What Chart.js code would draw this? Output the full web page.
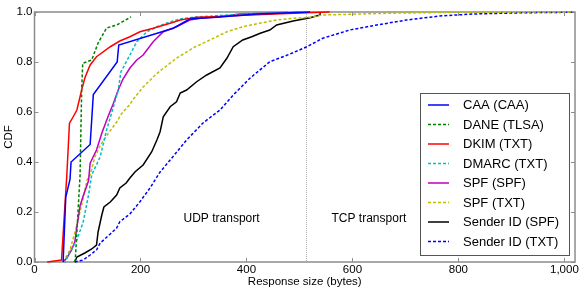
<!DOCTYPE html>
<html>
<head>
<meta charset="utf-8">
<script src="https://cdn.jsdelivr.net/npm/chart.js@4/dist/chart.umd.min.js"></script>
<style>
  html, body { margin: 0; padding: 0; background: #fff; }
  #wrap { width: 581px; height: 292px; }
</style>
</head>
<body>
<div id="wrap"><canvas id="cdfChart" width="581" height="292"></canvas></div>
<script>
// Response size (bytes) and cumulative fraction for each record type
const caaSize = [54, 59, 67, 69, 105, 111, 156, 159, 262, 284, 293, 350, 420, 520];
const caaCdf  = [0, 0.26, 0.33, 0.40, 0.47, 0.67, 0.80, 0.868, 0.935, 0.961, 0.972, 0.98, 0.992, 1.0];

const daneSize = [75, 77, 86, 89, 91, 108, 120, 136, 155, 178, 182];
const daneCdf  = [0, 0.01, 0.348, 0.688, 0.795, 0.808, 0.876, 0.936, 0.948, 0.975, 0.981];

const dkimSize = [24, 51, 61, 66, 73, 80, 89, 95, 105, 117, 143, 161, 180, 199, 224, 256, 275, 306, 337, 406, 500, 557];
const dkimCdf  = [0, 0.008, 0.348, 0.555, 0.581, 0.608, 0.688, 0.736, 0.788, 0.821, 0.861, 0.884, 0.901, 0.921, 0.935, 0.955, 0.968, 0.979, 0.981, 0.988, 0.996, 1.0];

const dmarcSize = [54, 58, 67, 80, 92, 102, 108, 124, 136, 149, 158, 163, 180, 193, 212, 231, 256, 275, 299, 380, 480];
const dmarcCdf  = [0, 0.002, 0.041, 0.088, 0.161, 0.268, 0.348, 0.421, 0.528, 0.621, 0.688, 0.76, 0.828, 0.881, 0.921, 0.941, 0.961, 0.972, 0.979, 0.99, 1.0];

const spfSpfSize = [54, 61, 70, 76, 80, 86, 92, 102, 105, 117, 127, 139, 149, 158, 167, 180, 193, 205, 224, 243, 268, 293, 312, 350, 387, 500];
const spfSpfCdf  = [0, 0.016, 0.048, 0.08, 0.14, 0.225, 0.265, 0.325, 0.395, 0.448, 0.515, 0.583, 0.635, 0.688, 0.732, 0.776, 0.808, 0.828, 0.881, 0.921, 0.941, 0.968, 0.975, 0.981, 0.992, 0.998];

const spfTxtSize = [54, 67, 80, 92, 99, 105, 114, 125, 136, 155, 165, 180, 186, 205, 224, 237, 268, 299, 331, 363, 393, 425, 457, 488, 520, 544, 670, 797, 1016];
const spfTxtCdf  = [0, 0.048, 0.148, 0.256, 0.328, 0.348, 0.421, 0.47, 0.505, 0.56, 0.595, 0.63, 0.65, 0.70, 0.74, 0.765, 0.815, 0.856, 0.888, 0.921, 0.941, 0.955, 0.968, 0.975, 0.979, 0.988, 0.995, 0.999, 1.0];

const senderSpfSize = [76, 80, 95, 108, 117, 120, 127, 131, 143, 155, 161, 173, 180, 190, 205, 221, 231, 237, 243, 256, 268, 275, 287, 306, 325, 350, 363, 375, 393, 410, 426, 444, 457, 488, 520, 539, 539];
const senderSpfCdf  = [0, 0.02, 0.036, 0.052, 0.068, 0.12, 0.188, 0.22, 0.24, 0.268, 0.296, 0.316, 0.336, 0.361, 0.388, 0.44, 0.488, 0.521, 0.581, 0.621, 0.641, 0.676, 0.688, 0.721, 0.748, 0.776, 0.815, 0.861, 0.888, 0.901, 0.915, 0.928, 0.948, 0.964, 0.977, 0.988, 1.0];

const senderTxtSize = [76, 92, 105, 117, 124, 143, 155, 161, 180, 199, 218, 237, 256, 287, 318, 350, 375, 407, 444, 480, 514, 544, 595, 646, 702, 765, 827, 922, 1016];
const senderTxtCdf  = [0, 0.008, 0.028, 0.048, 0.076, 0.112, 0.136, 0.161, 0.192, 0.241, 0.296, 0.36, 0.408, 0.488, 0.556, 0.608, 0.668, 0.736, 0.801, 0.83, 0.861, 0.895, 0.928, 0.948, 0.968, 0.984, 0.992, 0.997, 0.999];

const seriesLabels = ['CAA (CAA)', 'DANE (TLSA)', 'DKIM (TXT)', 'DMARC (TXT)', 'SPF (SPF)', 'SPF (TXT)', 'Sender ID (SPF)', 'Sender ID (TXT)'];
const xTicks = [0, 200, 400, 600, 800, 1000];
const yTicks = [0, 0.2, 0.4, 0.6, 0.8, 1.0];
const udpLimit = 512; // bytes
const regionNotes = [
  { text: 'UDP transport', x: 353, y: 0.172 },
  { text: 'TCP transport', x: 631, y: 0.172 },
];

const FONT = '"Liberation Sans", Arial, sans-serif';
const frameColor = '#8c8c8c';

function toPoints(xs, ys) {
  return xs.map((x, i) => ({ x: x, y: ys[i] }));
}

function series(i, xs, ys, color, dashed) {
  return {
    label: seriesLabels[i],
    data: toPoints(xs, ys),
    borderColor: color,
    backgroundColor: color,
    borderWidth: 1.5,
    borderDash: dashed ? [3, 2] : [],
    pointRadius: 0,
    tension: 0,
    fill: false,
    clip: false,
  };
}

// matplotlib-like frame, inward ticks, dotted UDP limit and text notes
const framePlugin = {
  id: 'frame',
  beforeDatasetsDraw(chart) {
    const { ctx, chartArea: a, scales: { x, y } } = chart;
    ctx.save();

    // dotted line at the UDP size limit
    const lx = Math.round(x.getPixelForValue(udpLimit)) + 0.5;
    ctx.strokeStyle = '#b0b0b0';
    ctx.lineWidth = 1;
    ctx.setLineDash([1, 1]);
    ctx.beginPath();
    ctx.moveTo(lx, a.top);
    ctx.lineTo(lx, a.bottom);
    ctx.stroke();
    ctx.setLineDash([]);

    // frame
    ctx.strokeStyle = frameColor;
    ctx.lineWidth = 1.5;
    ctx.strokeRect(a.left, a.top, a.right - a.left, a.bottom - a.top);

    // inward ticks on all sides
    ctx.lineWidth = 1;
    ctx.beginPath();
    xTicks.forEach(v => {
      const px = Math.round(x.getPixelForValue(v)) + 0.5;
      ctx.moveTo(px, a.bottom); ctx.lineTo(px, a.bottom - 4);
      ctx.moveTo(px, a.top); ctx.lineTo(px, a.top + 4);
    });
    yTicks.forEach(v => {
      const py = Math.round(y.getPixelForValue(v)) + 0.5;
      ctx.moveTo(a.left, py); ctx.lineTo(a.left + 4, py);
      ctx.moveTo(a.right, py); ctx.lineTo(a.right - 4, py);
    });
    ctx.stroke();

    // text notes
    ctx.fillStyle = '#000';
    ctx.font = '12px ' + FONT;
    ctx.textAlign = 'center';
    ctx.textBaseline = 'middle';
    regionNotes.forEach(n => {
      ctx.fillText(n.text, x.getPixelForValue(n.x), y.getPixelForValue(n.y));
    });
    ctx.restore();
  },
  afterDatasetsDraw(chart) {
    // legend box inside the plot, lower right
    const { ctx, chartArea: a } = chart;
    const w = 149, h = 162;
    const bx = a.right - 6 - w;
    const by = a.bottom - 7 - h;
    ctx.save();
    ctx.fillStyle = '#fff';
    ctx.fillRect(bx, by, w, h);
    ctx.strokeStyle = '#555';
    ctx.lineWidth = 1;
    ctx.strokeRect(Math.round(bx) + 0.5, Math.round(by) + 0.5, w, h);
    ctx.font = '13px ' + FONT;
    ctx.textAlign = 'left';
    ctx.textBaseline = 'middle';
    chart.data.datasets.forEach((ds, i) => {
      const cy = by + 12 + i * 19.5;
      ctx.strokeStyle = ds.borderColor;
      ctx.lineWidth = 1.5;
      ctx.setLineDash(ds.borderDash);
      ctx.beginPath();
      ctx.moveTo(bx + 8, cy);
      ctx.lineTo(bx + 29, cy);
      ctx.stroke();
      ctx.setLineDash([]);
      ctx.fillStyle = '#000';
      ctx.fillText(ds.label, bx + 43, cy + 0.5);
    });
    ctx.restore();
  }
};

new Chart(document.getElementById('cdfChart'), {
  type: 'line',
  data: {
    datasets: [
      series(0, caaSize, caaCdf, '#0000ff', false),
      series(1, daneSize, daneCdf, '#008000', true),
      series(2, dkimSize, dkimCdf, '#ff0000', false),
      series(3, dmarcSize, dmarcCdf, '#00bfbf', true),
      series(4, spfSpfSize, spfSpfCdf, '#bf00bf', false),
      series(5, spfTxtSize, spfTxtCdf, '#bfbf00', true),
      series(6, senderSpfSize, senderSpfCdf, '#000000', false),
      series(7, senderTxtSize, senderTxtCdf, '#0000ff', true),
    ]
  },
  options: {
    responsive: false,
    animation: false,
    devicePixelRatio: 1,
    layout: { padding: { left: 0, right: 6, top: 12, bottom: 0 } },
    plugins: {
      legend: { display: false },
      tooltip: { enabled: false },
    },
    scales: {
      x: {
        type: 'linear',
        min: 0,
        max: 1020,
        grid: { display: false, drawTicks: false },
        border: { display: false },
        afterBuildTicks: (scale) => { scale.ticks = xTicks.map(v => ({ value: v })); },
        afterFit: (scale) => { scale.height = 30; },
        ticks: {
          color: '#000',
          padding: 1,
          maxRotation: 0,
          font: { family: FONT, size: 11.5 },
        },
        title: {
          display: true,
          text: 'Response size (bytes)',
          color: '#000',
          padding: { top: 0, bottom: 3 },
          font: { family: FONT, size: 11.5 },
        }
      },
      y: {
        type: 'linear',
        min: 0,
        max: 1,
        grid: { display: false, drawTicks: false },
        border: { display: false },
        afterBuildTicks: (scale) => { scale.ticks = yTicks.map(v => ({ value: v })); },
        afterFit: (scale) => { scale.width = 34.5; },
        ticks: {
          color: '#000',
          padding: 2,
          font: { family: FONT, size: 11.5 },
          callback: (v) => Number(v).toFixed(1),
        },
        title: {
          display: true,
          text: 'CDF',
          color: '#000',
          padding: { top: 2, bottom: 0 },
          font: { family: FONT, size: 11.5 },
        }
      }
    }
  },
  plugins: [framePlugin]
});
</script>
</body>
</html>
